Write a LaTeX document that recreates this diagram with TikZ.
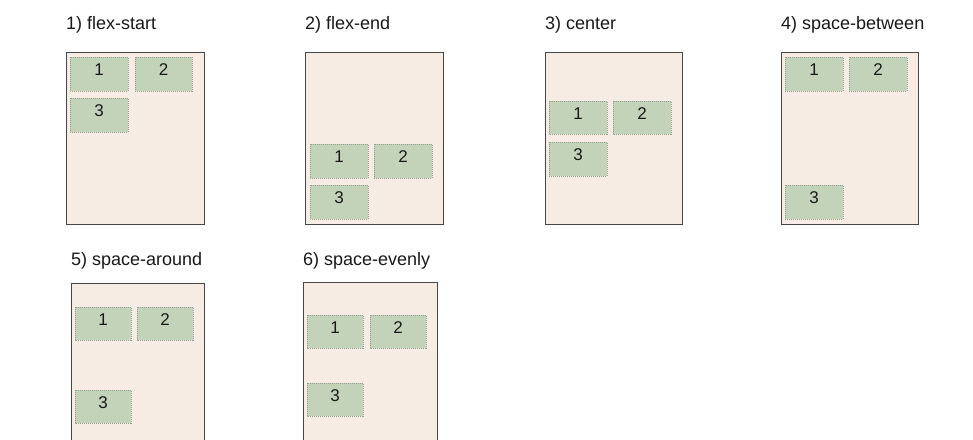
\documentclass[tikz,border=0pt]{standalone}
\usepackage{fontspec}
\setmainfont{Liberation Sans}
\definecolor{panelfill}{RGB}{246,236,228}
\definecolor{panelline}{RGB}{70,70,70}
\definecolor{itemfill}{RGB}{194,211,186}
\definecolor{itemline}{RGB}{150,160,145}
\begin{document}
\begin{tikzpicture}[x=1pt,y=-1pt,
  panel/.style={draw=panelline,fill=panelfill,line width=0.9pt},
  item/.style={draw=itemline,fill=itemfill,line width=0.6pt,dash pattern=on 1pt off 1pt},
  num/.style={font=\fontsize{17}{20}\selectfont,text=black!90,anchor=base,inner sep=0pt},
  ttl/.style={font=\fontsize{18}{21}\selectfont,text=black!90,anchor=base west,inner sep=0pt}]
\useasboundingbox (0,0) rectangle (973,439);
\fill[white] (0,0) rectangle (973,439);
% helper macro for an item box
\newcommand\itembox[5]{\draw[item] (#1,#2) rectangle (#3,#4); \node[num] at ({(#1+#3)/2},{#2+18}) {#5};}
% 1) flex-start
\node[ttl] (t1) at (66,29) {1) flex-start};
\draw[panel] (66,52) rectangle (204,224);
\itembox{70}{57}{128}{91}{1}
\itembox{135}{57}{192}{91}{2}
\itembox{70}{98}{128}{132}{3}
% 2) flex-end
\node[ttl] (t2) at (305,29) {2) flex-end};
\draw[panel] (305,52) rectangle (443,224);
\itembox{310}{144}{368}{178}{1}
\itembox{374}{144}{432}{178}{2}
\itembox{310}{185}{368}{219}{3}
% 3) center
\node[ttl] (t3) at (545,29) {3) center};
\draw[panel] (545,52) rectangle (682,224);
\itembox{549}{101}{607}{134}{1}
\itembox{613}{101}{671}{134}{2}
\itembox{549}{142}{607}{176}{3}
% 4) space-between
\node[ttl] (t4) at (781,29) {4) space-between};
\draw[panel] (781,52) rectangle (918,224);
\itembox{785}{57}{843}{91}{1}
\itembox{849}{57}{907}{91}{2}
\itembox{785}{185}{843}{219}{3}
% 5) space-around
\node[ttl] (t5) at (71,265) {5) space-around};
\draw[panel] (71,446) -- (71,283) -- (204,283) -- (204,446);
\itembox{75}{307}{131}{340}{1}
\itembox{137}{307}{193}{340}{2}
\itembox{75}{390}{131}{423}{3}
% 6) space-evenly
\node[ttl] (t6) at (303,265) {6) space-evenly};
\draw[panel] (303,446) -- (303,282) -- (437,282) -- (437,446);
\itembox{307}{315}{363}{348}{1}
\itembox{370}{315}{426}{348}{2}
\itembox{307}{383}{363}{416}{3}
\end{tikzpicture}
\end{document}
